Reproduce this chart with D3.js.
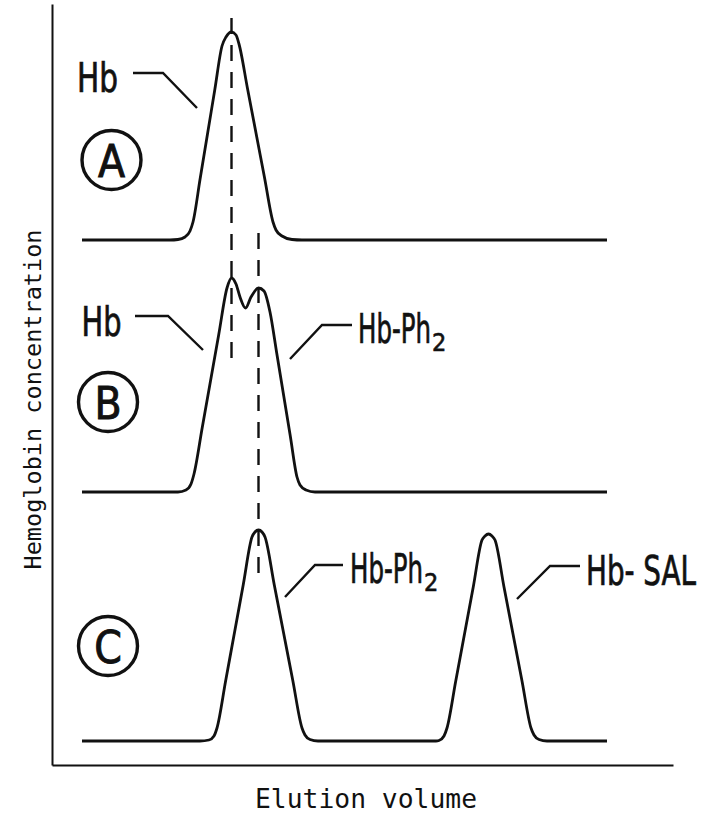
<!DOCTYPE html>
<html>
<head>
<meta charset="utf-8">
<script src="https://cdn.jsdelivr.net/npm/d3@7"></script>
<style>
  html, body { margin: 0; padding: 0; background: #fff; }
  svg { display: block; }
</style>
</head>
<body>
<svg id="chart" width="708" height="815"></svg>
<script>
// ---------------- DATA (elution volume, concentration; arbitrary units) ----------------
const panels = ["A", "B", "C"];

const traceA = [
  [6, 0], [23.6, 0], [25.2, 0.1], [26.6, 0.6], [27.6, 1.8], [28.2, 3.6],
  [29.65, 12.4], [31.1, 21.2], [32.55, 30],
  [34, 38.8], [34.8, 40.6], [35.9, 41.6], [36.8, 41], [37.4, 39.2],
  [39.1, 30.3], [40.8, 21.4], [42.5, 12.5],
  [44.2, 3.6], [44.8, 2], [46, 0.8], [48, 0.1], [50, 0], [111, 0]
];
const traceB = [
  [6, 0], [25.2, 0], [26.8, 0.4], [27.8, 1.6], [28.4, 3.6],
  [30.05, 12.9], [31.7, 22.2], [33.35, 31.5],
  [35, 40.8], [35.9, 42.8], [36.8, 41.6], [37.6, 39], [38.7, 36.8],
  [39.8, 39], [41.3, 40.8], [42.4, 40.2], [43.6, 36],
  [44.95, 27.75], [46.3, 19.5], [47.65, 11.25],
  [49, 3], [49.6, 1.4], [50.8, 0.4], [52.6, 0], [111, 0]
];
const traceC = [
  [6, 0], [29.6, 0], [31.4, 0.2], [32.4, 1], [33, 2.6],
  [34.75, 12.15], [36.5, 21.7], [38.25, 31.25],
  [40, 40.8], [40.6, 41.8], [41.3, 42.2], [42, 41.8], [42.6, 40.8],
  [44.45, 31.25], [46.3, 21.7], [48.15, 12.15],
  [50, 2.6], [50.6, 1.2], [51.6, 0.3], [53.2, 0],
  [76.8, 0], [77.4, 0.1], [78.4, 1], [79, 2.6],
  [80.75, 12], [82.5, 21.4], [84.25, 30.8],
  [86, 40.2], [86.6, 41], [87.3, 41.4], [88, 41], [88.6, 40.2],
  [90.4, 30.8], [92.2, 21.4], [94, 12],
  [95.8, 2.6], [96.4, 1.2], [97.4, 0.3], [99, 0], [111, 0]
];
const traces = [traceA, traceB, traceC];

// dashed guide lines: elution, from [panel, conc] to [panel, conc]
const guideElution = [35.9, 41.3];
const guideFrom = [[0, 44.4], [0, 1.4]];
const guideTo = [[1, 25.4], [2, 32.2]];

// peak labels
const labelText = ["Hb", "Hb", "Hb-Ph", "Hb-Ph", "Hb- SAL"];
const labelSub = ["", "", "2", "2", ""];
const labelPanel = [0, 1, 1, 2, 2];
const labelAt = [[5, 29.6], [5.9, 31.2], [61.2, 29.8], [59.6, 31.6], [106.8, 31.2]];
const labelLen = [41, 40, 73, 73, 110];
const leaders = [
  [[16.2, 33.4], [22.2, 33.4], [29, 26.4]],
  [[16.6, 35.2], [23.2, 35.2], [30.2, 28.4]],
  [[47.6, 26.6], [54, 33.4], [60, 33.4]],
  [[46.6, 28.8], [52.6, 35.2], [58.2, 35.2]],
  [[93, 28.4], [99.6, 35], [105.6, 35]]
];

// panel letter badges
const badgeAt = [[11.9, 16], [11.2, 18], [11.2, 19]];

const xTitle = "Elution volume";
const yTitle = "Hemoglobin concentration";

// ---------------- LAYOUT ----------------
const svg = d3.select("#chart");
const x = d3.scaleLinear().domain([0, 124.2]).range([52, 673]);
const panelBase = [240, 492, 741];
const ys = panelBase.map(b => d3.scaleLinear().domain([0, 44]).range([b, b - 220]));
const yFrame = d3.scaleLinear().domain([0, 1]).range([765, 4]);

const ink = "#111";

// axes (frame only)
svg.append("g")
  .attr("transform", `translate(0,${yFrame(0)})`)
  .call(d3.axisBottom(x).tickValues([]).tickSizeOuter(0))
  .call(g => g.select(".domain").attr("stroke", ink).attr("stroke-width", 2));
svg.append("g")
  .attr("transform", `translate(${x(0)},0)`)
  .call(d3.axisLeft(yFrame).tickValues([]).tickSizeOuter(0))
  .call(g => g.select(".domain").attr("stroke", ink).attr("stroke-width", 2));

// traces
traces.forEach((t, i) => {
  const line = d3.line()
    .x(d => x(d[0]))
    .y(d => ys[i](d[1]))
    .curve(d3.curveMonotoneX);
  svg.append("path")
    .attr("d", line(t))
    .attr("fill", "none")
    .attr("stroke", ink)
    .attr("stroke-width", 2.8)
    .attr("stroke-linejoin", "round");
});

// dashed guides
guideElution.forEach((e, i) => {
  svg.append("line")
    .attr("x1", x(e)).attr("x2", x(e))
    .attr("y1", ys[guideFrom[i][0]](guideFrom[i][1]))
    .attr("y2", ys[guideTo[i][0]](guideTo[i][1]))
    .attr("stroke", ink)
    .attr("stroke-width", 2.4)
    .attr("stroke-dasharray", "16,11");
});

// leaders
leaders.forEach((pts, i) => {
  const p = labelPanel[i];
  svg.append("path")
    .attr("d", d3.line().x(d => x(d[0])).y(d => ys[p](d[1]))(pts))
    .attr("fill", "none")
    .attr("stroke", ink)
    .attr("stroke-width", 2.4);
});

// labels (horizontally condensed lettering via scale transform)
const labelFont = "'Liberation Sans Narrow', 'DejaVu Sans Condensed', 'Liberation Sans', sans-serif";
labelText.forEach((txt, i) => {
  const p = labelPanel[i];
  const lx = x(labelAt[i][0]), ly = ys[p](labelAt[i][1]);
  const t = svg.append("text")
    .attr("x", 0).attr("y", 0)
    .attr("font-family", labelFont)
    .attr("font-size", 40)
    .attr("fill", ink)
    .attr("stroke", ink).attr("stroke-width", 0.7)
    .text(txt);
  const natural = t.node().getComputedTextLength() || labelLen[i];
  const sx = labelLen[i] / natural;
  t.attr("transform", `translate(${lx},${ly}) scale(${sx},1)`);
  if (labelSub[i]) {
    svg.append("text")
      .attr("x", lx + labelLen[i] + 1).attr("y", ly + 8)
      .attr("font-family", labelFont)
      .attr("font-size", 25)
      .attr("fill", ink)
      .attr("stroke", ink).attr("stroke-width", 0.6)
      .text(labelSub[i]);
  }
});

// badges
panels.forEach((name, i) => {
  const cx = x(badgeAt[i][0]), cy = ys[i](badgeAt[i][1]);
  svg.append("circle")
    .attr("cx", cx).attr("cy", cy).attr("r", 29.5)
    .attr("fill", "none").attr("stroke", ink).attr("stroke-width", 3.4);
  svg.append("text")
    .attr("x", cx).attr("y", cy + 1)
    .attr("text-anchor", "middle")
    .attr("dominant-baseline", "central")
    .attr("font-family", labelFont)
    .attr("font-size", 44)
    .attr("fill", ink)
    .attr("stroke", ink).attr("stroke-width", 0.9)
    .text(name);
});

// axis titles
const monoFont = "'DejaVu Sans Mono', 'Liberation Mono', monospace";
svg.append("text")
  .attr("x", 255).attr("y", 808)
  .attr("font-family", monoFont)
  .attr("font-size", 27)
  .attr("fill", ink)
  .attr("textLength", 222)
  .attr("lengthAdjust", "spacingAndGlyphs")
  .text(xTitle);
svg.append("text")
  .attr("transform", `translate(41,${(yFrame(0) + yFrame(1)) / 2 + 15}) rotate(-90)`)
  .attr("text-anchor", "middle")
  .attr("font-family", monoFont)
  .attr("font-size", 23)
  .attr("fill", ink)
  .attr("textLength", 340)
  .attr("lengthAdjust", "spacingAndGlyphs")
  .text(yTitle);
</script>
</body>
</html>
